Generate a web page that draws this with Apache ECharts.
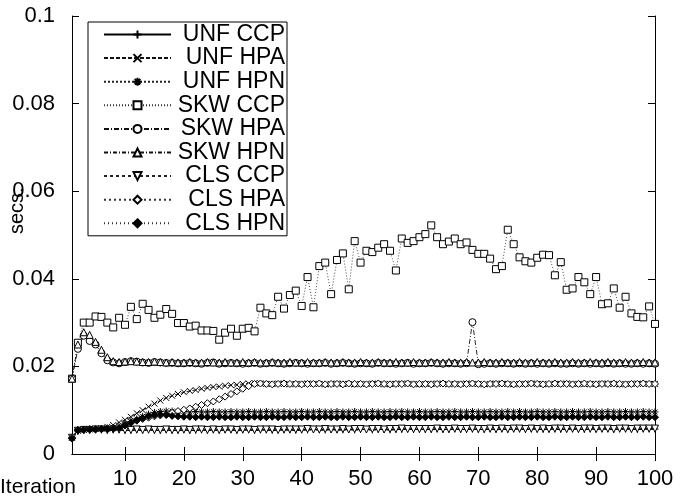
<!DOCTYPE html>
<html>
<head>
<meta charset="utf-8">
<script src="https://cdn.jsdelivr.net/npm/echarts@6/dist/echarts.min.js"></script>
<style>
html,body{margin:0;padding:0;background:#fff;}
#chart{width:681px;height:499px;}
</style>
</head>
<body>
<div id="chart"></div>
<script>
var iterations = [1,2,3,4,5,6,7,8,9,10,11,12,13,14,15,16,17,18,19,20,
21,22,23,24,25,26,27,28,29,30,31,32,33,34,35,36,37,38,39,40,
41,42,43,44,45,46,47,48,49,50,51,52,53,54,55,56,57,58,59,60,
61,62,63,64,65,66,67,68,69,70,71,72,73,74,75,76,77,78,79,80,
81,82,83,84,85,86,87,88,89,90,91,92,93,94,95,96,97,98,99,100];

var seriesNames = ['UNF CCP','UNF HPA','UNF HPN','SKW CCP','SKW HPA','SKW HPN','CLS CCP','CLS HPA','CLS HPN'];

var unfCcp = [
0.0038,0.0052,0.0054,0.0054,0.0055,0.0055,0.0054,0.0055,0.0055,0.0054,
0.0054,0.0055,0.0054,0.0055,0.0054,0.0054,0.0055,0.0054,0.0054,0.0055,
0.0054,0.0054,0.0055,0.0054,0.0055,0.0054,0.0055,0.0055,0.0054,0.0055,
0.0055,0.0054,0.0055,0.0055,0.0054,0.0055,0.0055,0.0055,0.0054,0.0055,
0.0055,0.0056,0.0055,0.0055,0.0056,0.0055,0.0055,0.0056,0.0055,0.0056,
0.0056,0.0055,0.0056,0.0056,0.0055,0.0056,0.0056,0.0057,0.0056,0.0056,
0.0056,0.0056,0.0057,0.0056,0.0056,0.0057,0.0056,0.0056,0.0057,0.0056,
0.0056,0.0057,0.0056,0.0057,0.0056,0.0057,0.0057,0.0056,0.0057,0.0057,
0.0056,0.0057,0.0057,0.0056,0.0057,0.0057,0.0057,0.0056,0.0057,0.0057,
0.0057,0.0057,0.0056,0.0057,0.0057,0.0057,0.0056,0.0057,0.0057,0.0057];

var unfHpa = [
0.0037,0.0053,0.0055,0.0056,0.0057,0.0058,0.0062,0.0066,0.0072,0.0078,
0.0085,0.0093,0.0100,0.0108,0.0115,0.0122,0.0128,0.0133,0.0137,0.0141,
0.0144,0.0146,0.0149,0.0151,0.0153,0.0154,0.0156,0.0157,0.0158,0.0160,
0.0161,0.0162,0.0161,0.0160,0.0160,0.0161,0.0160,0.0159,0.0160,0.0160,
0.0161,0.0160,0.0160,0.0159,0.0160,0.0161,0.0160,0.0160,0.0159,0.0160,
0.0160,0.0161,0.0160,0.0159,0.0160,0.0160,0.0161,0.0160,0.0160,0.0159,
0.0160,0.0160,0.0161,0.0160,0.0159,0.0160,0.0160,0.0161,0.0160,0.0160,
0.0159,0.0160,0.0161,0.0160,0.0160,0.0159,0.0160,0.0160,0.0161,0.0160,
0.0160,0.0159,0.0160,0.0160,0.0161,0.0160,0.0160,0.0159,0.0160,0.0160,
0.0161,0.0160,0.0160,0.0159,0.0160,0.0160,0.0161,0.0160,0.0160,0.0160];

var unfHpn = [
0.0037,0.0055,0.0056,0.0056,0.0057,0.0057,0.0057,0.0058,0.0062,0.0068,
0.0074,0.0080,0.0086,0.0091,0.0095,0.0097,0.0098,0.0098,0.0097,0.0097,
0.0096,0.0097,0.0096,0.0096,0.0097,0.0096,0.0096,0.0097,0.0096,0.0096,
0.0097,0.0096,0.0096,0.0097,0.0096,0.0096,0.0097,0.0096,0.0096,0.0097,
0.0096,0.0096,0.0097,0.0096,0.0096,0.0097,0.0096,0.0096,0.0097,0.0096,
0.0096,0.0097,0.0096,0.0096,0.0097,0.0096,0.0097,0.0096,0.0096,0.0097,
0.0096,0.0096,0.0097,0.0096,0.0096,0.0097,0.0096,0.0096,0.0097,0.0096,
0.0096,0.0097,0.0096,0.0096,0.0097,0.0096,0.0097,0.0096,0.0096,0.0097,
0.0096,0.0096,0.0097,0.0096,0.0096,0.0097,0.0096,0.0096,0.0097,0.0096,
0.0096,0.0097,0.0096,0.0096,0.0097,0.0096,0.0096,0.0097,0.0096,0.0096];

var skwCcp = [
0.0172,0.0254,0.0300,0.0300,0.0314,0.0313,0.0300,0.0289,0.0311,0.0295,
0.0336,0.0308,0.0343,0.0329,0.0311,0.0318,0.0331,0.0320,0.0299,0.0299,
0.0291,0.0293,0.0282,0.0282,0.0281,0.0261,0.0277,0.0286,0.0270,0.0286,
0.0288,0.0280,0.0334,0.0321,0.0317,0.0359,0.0332,0.0363,0.0373,0.0338,
0.0404,0.0335,0.0429,0.0437,0.0365,0.0443,0.0458,0.0376,0.0486,0.0437,
0.0464,0.0461,0.0471,0.0479,0.0464,0.0419,0.0492,0.0482,0.0486,0.0495,
0.0502,0.0522,0.0495,0.0479,0.0485,0.0492,0.0479,0.0483,0.0466,0.0457,
0.0457,0.0446,0.0422,0.0429,0.0512,0.0479,0.0449,0.0440,0.0437,0.0448,
0.0455,0.0454,0.0408,0.0438,0.0375,0.0378,0.0404,0.0392,0.0365,0.0404,
0.0342,0.0344,0.0378,0.0334,0.0359,0.0321,0.0313,0.0312,0.0337,0.0297];

var skwHpa = [
0.0172,0.0240,0.0270,0.0258,0.0250,0.0230,0.0214,0.0209,0.0207,0.0210,
0.0212,0.0211,0.0209,0.0208,0.0210,0.0209,0.0208,0.0208,0.0207,0.0207,
0.0208,0.0207,0.0206,0.0208,0.0209,0.0206,0.0207,0.0208,0.0207,0.0206,
0.0207,0.0208,0.0206,0.0207,0.0208,0.0207,0.0206,0.0207,0.0208,0.0207,
0.0206,0.0207,0.0207,0.0208,0.0206,0.0207,0.0208,0.0207,0.0206,0.0207,
0.0207,0.0206,0.0208,0.0207,0.0207,0.0206,0.0207,0.0208,0.0206,0.0207,
0.0207,0.0208,0.0207,0.0206,0.0207,0.0207,0.0206,0.0207,0.0301,0.0205,
0.0206,0.0207,0.0206,0.0207,0.0207,0.0206,0.0207,0.0206,0.0207,0.0206,
0.0207,0.0206,0.0207,0.0206,0.0206,0.0207,0.0206,0.0207,0.0206,0.0207,
0.0206,0.0207,0.0206,0.0207,0.0206,0.0206,0.0207,0.0206,0.0207,0.0206];

var skwHpn = [
0.0172,0.0250,0.0278,0.0272,0.0256,0.0238,0.0221,0.0212,0.0210,0.0211,
0.0212,0.0211,0.0210,0.0210,0.0211,0.0210,0.0209,0.0210,0.0209,0.0209,
0.0210,0.0209,0.0209,0.0210,0.0209,0.0209,0.0210,0.0209,0.0209,0.0210,
0.0209,0.0210,0.0209,0.0209,0.0210,0.0209,0.0209,0.0210,0.0209,0.0209,
0.0210,0.0209,0.0209,0.0210,0.0209,0.0209,0.0210,0.0209,0.0209,0.0210,
0.0209,0.0209,0.0210,0.0209,0.0209,0.0210,0.0209,0.0209,0.0210,0.0209,
0.0209,0.0210,0.0209,0.0209,0.0210,0.0209,0.0209,0.0210,0.0209,0.0209,
0.0210,0.0209,0.0209,0.0210,0.0209,0.0209,0.0210,0.0209,0.0209,0.0210,
0.0209,0.0209,0.0210,0.0209,0.0209,0.0210,0.0209,0.0209,0.0210,0.0209,
0.0209,0.0210,0.0209,0.0209,0.0210,0.0209,0.0209,0.0210,0.0209,0.0209];

var clsCcp = [
0.0037,0.0053,0.0055,0.0055,0.0056,0.0056,0.0055,0.0056,0.0056,0.0055,
0.0055,0.0056,0.0055,0.0056,0.0055,0.0055,0.0056,0.0055,0.0055,0.0056,
0.0055,0.0056,0.0056,0.0055,0.0056,0.0055,0.0056,0.0056,0.0055,0.0056,
0.0056,0.0055,0.0056,0.0056,0.0056,0.0055,0.0056,0.0056,0.0056,0.0056,
0.0057,0.0056,0.0056,0.0057,0.0056,0.0056,0.0057,0.0056,0.0057,0.0057,
0.0056,0.0057,0.0057,0.0056,0.0057,0.0057,0.0058,0.0057,0.0057,0.0057,
0.0057,0.0057,0.0058,0.0057,0.0057,0.0058,0.0057,0.0057,0.0058,0.0057,
0.0057,0.0058,0.0057,0.0058,0.0057,0.0058,0.0058,0.0057,0.0058,0.0057,
0.0058,0.0057,0.0058,0.0058,0.0057,0.0058,0.0057,0.0058,0.0058,0.0057,
0.0058,0.0058,0.0057,0.0058,0.0058,0.0057,0.0058,0.0058,0.0058,0.0058];

var clsHpa = [
0.0037,0.0055,0.0056,0.0057,0.0057,0.0058,0.0059,0.0060,0.0064,0.0068,
0.0072,0.0076,0.0080,0.0083,0.0086,0.0088,0.0090,0.0094,0.0098,0.0101,
0.0104,0.0108,0.0112,0.0116,0.0120,0.0125,0.0131,0.0137,0.0143,0.0149,
0.0155,0.0160,0.0161,0.0160,0.0159,0.0160,0.0161,0.0160,0.0160,0.0159,
0.0160,0.0160,0.0161,0.0159,0.0160,0.0160,0.0159,0.0161,0.0160,0.0160,
0.0159,0.0160,0.0161,0.0160,0.0159,0.0160,0.0160,0.0161,0.0159,0.0160,
0.0160,0.0159,0.0160,0.0161,0.0160,0.0160,0.0159,0.0160,0.0161,0.0160,
0.0159,0.0160,0.0160,0.0161,0.0160,0.0159,0.0160,0.0160,0.0161,0.0160,
0.0159,0.0160,0.0161,0.0160,0.0160,0.0159,0.0160,0.0161,0.0160,0.0159,
0.0160,0.0160,0.0161,0.0160,0.0159,0.0160,0.0160,0.0161,0.0160,0.0160];

var clsHpn = [
0.0035,0.0054,0.0055,0.0056,0.0056,0.0057,0.0057,0.0058,0.0060,0.0065,
0.0071,0.0077,0.0082,0.0086,0.0089,0.0090,0.0089,0.0087,0.0086,0.0085,
0.0085,0.0084,0.0085,0.0084,0.0084,0.0085,0.0084,0.0084,0.0085,0.0084,
0.0084,0.0085,0.0084,0.0084,0.0085,0.0084,0.0084,0.0085,0.0084,0.0084,
0.0085,0.0084,0.0084,0.0085,0.0084,0.0084,0.0085,0.0084,0.0084,0.0085,
0.0084,0.0084,0.0085,0.0084,0.0084,0.0085,0.0084,0.0084,0.0085,0.0084,
0.0084,0.0085,0.0084,0.0084,0.0085,0.0084,0.0084,0.0085,0.0084,0.0084,
0.0085,0.0084,0.0084,0.0085,0.0084,0.0084,0.0085,0.0084,0.0084,0.0085,
0.0084,0.0084,0.0085,0.0084,0.0084,0.0085,0.0084,0.0084,0.0085,0.0084,
0.0084,0.0085,0.0084,0.0084,0.0085,0.0084,0.0084,0.0085,0.0084,0.0084];

var xTickEvery = 10;

var FONT = 'Liberation Sans, Arial, Helvetica, sans-serif';

var symPlus = 'path://M0,5L10,5M5,0L5,10';
var symCross = 'path://M0,0L10,10M10,0L0,10';
var symStar = 'path://M0,5L10,5M5,0L5,10M1.5,1.5L8.5,8.5M8.5,1.5L1.5,8.5';
var symDownTri = 'path://M0,0L10,0L5,8.66Z';

var styles = [
  {data: unfCcp, symbol: symPlus, size: 7, fill: 'none', dash: 'solid', color: '#000'},
  {data: unfHpa, symbol: symCross, size: 6, fill: 'none', dash: [4, 2], color: '#111'},
  {data: unfHpn, symbol: symStar, size: 7, fill: 'none', dash: [2, 2], color: '#222'},
  {data: skwCcp, symbol: 'rect', size: 7, fill: '#fff', dash: [1, 2], color: '#333'},
  {data: skwHpa, symbol: 'circle', size: 7, fill: '#fff', dash: [5, 2, 1, 2], color: '#111'},
  {data: skwHpn, symbol: 'triangle', size: 7, fill: '#fff', dash: [4, 2, 1, 2], color: '#111'},
  {data: clsCcp, symbol: symDownTri, size: 7, fill: '#fff', dash: [3, 3], color: '#222'},
  {data: clsHpa, symbol: 'diamond', size: 7, fill: '#fff', dash: [2, 3], color: '#333'},
  {data: clsHpn, symbol: 'diamond', size: 7, fill: '#000', dash: [1, 3], color: '#333'}
];

var series = styles.map(function (s, i) {
  return {
    name: seriesNames[i],
    type: 'line',
    data: s.data,
    xAxisIndex: 0,
    yAxisIndex: 0,
    symbol: s.symbol,
    symbolSize: s.size,
    showSymbol: true,
    showAllSymbol: true,
    animation: false,
    lineStyle: {color: s.color, width: 0.9, type: s.dash},
    itemStyle: {color: s.fill === 'none' ? 'rgba(0,0,0,0)' : s.fill, borderColor: '#000', borderWidth: 1},
    emphasis: {disabled: true}
  };
});

var chart = echarts.init(document.getElementById('chart'), null, {renderer: 'canvas'});

function tickInterval(index) { return (index + 1) % xTickEvery === 0; }

chart.setOption({
  animation: false,
  backgroundColor: '#fff',
  grid: {left: 72, right: 26, top: 16, bottom: 45, containLabel: false},
  xAxis: [{
    type: 'category',
    data: iterations,
    boundaryGap: false,
    position: 'bottom',
    axisLine: {lineStyle: {color: '#000', width: 1}},
    axisTick: {inside: true, length: 7, interval: tickInterval, lineStyle: {color: '#000'}},
    axisLabel: {interval: tickInterval, color: '#000', fontSize: 22, fontFamily: FONT, margin: 14},
    splitLine: {show: false}
  }, {
    type: 'category',
    data: iterations,
    boundaryGap: false,
    position: 'top',
    axisLine: {lineStyle: {color: '#000', width: 1}},
    axisTick: {inside: true, length: 7, interval: tickInterval, lineStyle: {color: '#000'}},
    axisLabel: {show: false},
    splitLine: {show: false}
  }],
  yAxis: [{
    type: 'value',
    min: 0, max: 0.1, interval: 0.02,
    position: 'left',
    axisLine: {show: true, lineStyle: {color: '#000', width: 1}},
    axisTick: {show: true, inside: true, length: 7, lineStyle: {color: '#000'}},
    axisLabel: {color: '#000', fontSize: 22, fontFamily: FONT, margin: 17,
      formatter: function (v) { return String(+v.toFixed(2)); }},
    splitLine: {show: false}
  }, {
    type: 'value',
    min: 0, max: 0.1, interval: 0.02,
    position: 'right',
    axisLine: {show: true, lineStyle: {color: '#000', width: 1}},
    axisTick: {show: true, inside: true, length: 7, lineStyle: {color: '#000'}},
    axisLabel: {show: false},
    splitLine: {show: false}
  }],
  legend: {
    show: true,
    orient: 'vertical',
    left: 88, top: 22,
    padding: [1, 2, 1, 15],
    itemGap: 0.6,
    itemWidth: 67,
    itemHeight: 10,
    backgroundColor: '#fff',
    borderColor: '#000',
    borderWidth: 1,
    borderRadius: 0,
    selectedMode: false,
    data: seriesNames,
    formatter: '{a|{name}}',
    textStyle: {
      color: '#000', fontFamily: FONT, fontSize: 23,
      rich: {a: {width: 109, align: 'right', fontSize: 23, fontFamily: FONT, color: '#000', lineHeight: 21}}
    }
  },
  graphic: [{
    type: 'text',
    left: 0, top: 477,
    style: {text: 'Iteration', font: '21px ' + FONT, fill: '#000'}
  }, {
    type: 'text',
    x: 7, y: 234,
    rotation: Math.PI / 2,
    style: {text: 'secs.', font: '20px ' + FONT, fill: '#000', textAlign: 'left', textVerticalAlign: 'top'}
  }],
  series: series
});
</script>
</body>
</html>
